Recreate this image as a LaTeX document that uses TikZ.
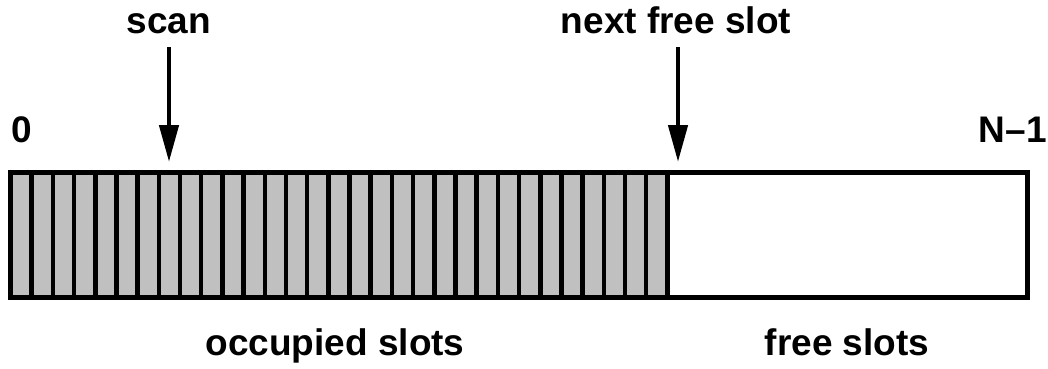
\documentclass[tikz,border=0pt]{standalone}
\usepackage{fontspec}
\setmainfont{Liberation Sans}
\usetikzlibrary{arrows.meta}
\definecolor{slotgray}{RGB}{192,192,192}
\begin{document}
\begin{tikzpicture}[x=1pt,y=-1pt,
  lbl/.style={font=\bfseries\fontsize{37}{40}\selectfont, inner sep=0pt, anchor=base},
  ptr/.style={line width=4.5pt, -{Triangle[length=37pt,width=19pt]}},
  cellline/.style={line width=4.5pt},
  border/.style={line width=5pt}]
\useasboundingbox (0,0) rectangle (1048,368);
% occupied part
\fill[slotgray] (10.5,172.5) rectangle (667.3,297.5);
\foreach \i in {1,...,30}
  \draw[cellline] ({10.5+21.19*\i},172.5) -- ({10.5+21.19*\i},297.5);
\draw[border] (667.3,172.5) -- (667.3,297.5);
\node[draw, border, anchor=north west, inner sep=0pt, outer sep=0pt,
      minimum width=1017pt, minimum height=125pt] (arr) at (10.5,172.5) {};
% labels
\node[lbl] (scan) at (169,33) {scan};
\node[lbl] (nfs) at (676,33) {next free slot};
\node[lbl, anchor=base west] (zero) at (11.5,142) {0};
\node[lbl, anchor=base east] (nm1) at (1047,142) {N–1};
\node[lbl] (occ) at (335,355) {occupied slots};
\node[lbl] (free) at (847,355) {free slots};
% pointers
\coordinate (scanTail) at (169,47);
\coordinate (scanTip) at (169,162);
\coordinate (nfsTail) at (678,47);
\coordinate (nfsTip) at (678,162);
\draw[ptr] (scanTail) -- (scanTip);
\draw[ptr] (nfsTail) -- (nfsTip);
\end{tikzpicture}
\end{document}
